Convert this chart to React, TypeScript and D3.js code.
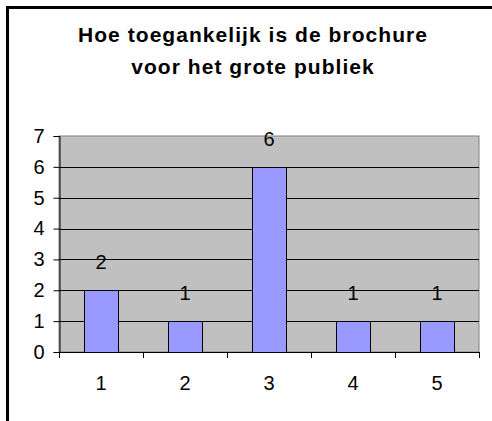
import { useEffect, useRef } from "react";
import * as d3 from "d3";

const categories = ["1", "2", "3", "4", "5"];
const counts = [2, 1, 6, 1, 1];
const yTicks = [0, 1, 2, 3, 4, 5, 6, 7];
const titleLines = ["Hoe toegankelijk is de brochure", "voor het grote publiek"];

export default function App() {
  const ref = useRef<SVGSVGElement>(null);

  useEffect(() => {
    const width = 492;
    const height = 421;
    const plot = { left: 59, right: 479, top: 136, bottom: 352 };
    const font = "Liberation Sans, Arial, sans-serif";

    const svg = d3.select(ref.current);
    svg.selectAll("*").remove();
    svg.attr("width", width).attr("height", height);

    svg.append("rect").attr("width", width).attr("height", height).attr("fill", "#fff");

    // outer frame (runs off the right and bottom edge)
    svg
      .append("rect")
      .attr("x", 7.5)
      .attr("y", 7.5)
      .attr("width", width + 20)
      .attr("height", height + 20)
      .attr("fill", "none")
      .attr("stroke", "#000")
      .attr("stroke-width", 3);

    svg
      .append("g")
      .selectAll("text")
      .data(titleLines)
      .join("text")
      .attr("x", 253)
      .attr("y", (d, i) => 42 + i * 32)
      .attr("text-anchor", "middle")
      .attr("font-family", font)
      .attr("font-weight", "bold")
      .attr("font-size", 21)
      .attr("letter-spacing", 1.05)
      .attr("fill", "#000")
      .text((d) => d);

    const x = d3
      .scaleBand()
      .domain(categories)
      .range([plot.left, plot.right])
      .paddingInner(0.595)
      .paddingOuter(0.2975);
    const y = d3.scaleLinear().domain([0, 7]).range([plot.bottom, plot.top]);

    svg
      .append("rect")
      .attr("x", plot.left)
      .attr("y", plot.top)
      .attr("width", plot.right - plot.left)
      .attr("height", plot.bottom - plot.top)
      .attr("fill", "#c0c0c0")
      .attr("stroke", "#808080")
      .attr("stroke-width", 1);

    svg
      .append("g")
      .selectAll("line")
      .data(yTicks.filter((t) => t > 0 && t < 7))
      .join("line")
      .attr("x1", plot.left)
      .attr("x2", plot.right)
      .attr("y1", (d) => Math.round(y(d)) + 0.5)
      .attr("y2", (d) => Math.round(y(d)) + 0.5)
      .attr("stroke", "#000")
      .attr("stroke-width", 1);

    // y axis
    const yAxis = svg
      .append("g")
      .attr("transform", `translate(${plot.left + 0.5},0)`)
      .call(d3.axisLeft(y).tickValues(yTicks).tickSize(6).tickPadding(9).tickFormat(d3.format("d")));
    yAxis.select(".domain").attr("stroke", "#000");
    yAxis.selectAll("line").attr("stroke", "#000");
    yAxis
      .selectAll("text")
      .attr("font-family", font)
      .attr("font-size", 20)
      .attr("fill", "#000");

    // x axis with ticks on category boundaries
    const step = x.step();
    const boundaries = d3.range(categories.length + 1).map((i) => plot.left + i * step);
    const xg = svg.append("g");
    xg.append("line")
      .attr("x1", plot.left)
      .attr("x2", plot.right)
      .attr("y1", Math.round(plot.bottom) + 0.5)
      .attr("y2", Math.round(plot.bottom) + 0.5)
      .attr("stroke", "#000");
    xg.selectAll("line.tick")
      .data(boundaries)
      .join("line")
      .attr("class", "tick")
      .attr("x1", (d) => Math.round(d) + 0.5)
      .attr("x2", (d) => Math.round(d) + 0.5)
      .attr("y1", plot.bottom)
      .attr("y2", plot.bottom + 6)
      .attr("stroke", "#000");
    xg.selectAll("text")
      .data(categories)
      .join("text")
      .attr("x", (d) => (x(d) ?? 0) + x.bandwidth() / 2)
      .attr("y", 390)
      .attr("text-anchor", "middle")
      .attr("font-family", font)
      .attr("font-size", 20)
      .attr("fill", "#000")
      .text((d) => d);

    // bars
    svg
      .append("g")
      .selectAll("rect")
      .data(counts)
      .join("rect")
      .attr("x", (d, i) => Math.round(x(categories[i]) ?? 0) + 0.5)
      .attr("y", (d) => Math.round(y(d)) + 0.5)
      .attr("width", Math.round(x.bandwidth()))
      .attr("height", (d) => Math.round(y(0)) - Math.round(y(d)))
      .attr("fill", "#9999ff")
      .attr("stroke", "#000")
      .attr("stroke-width", 1);

    // data labels
    svg
      .append("g")
      .selectAll("text")
      .data(counts)
      .join("text")
      .attr("x", (d, i) => (x(categories[i]) ?? 0) + x.bandwidth() / 2)
      .attr("y", (d) => y(d) - 21)
      .attr("text-anchor", "middle")
      .attr("font-family", font)
      .attr("font-size", 20)
      .attr("fill", "#000")
      .text((d) => d);
  }, []);

  return (
    <div style={{ position: "fixed", left: 0, top: 0 }}>
      <svg ref={ref} style={{ display: "block" }} />
    </div>
  );
}
